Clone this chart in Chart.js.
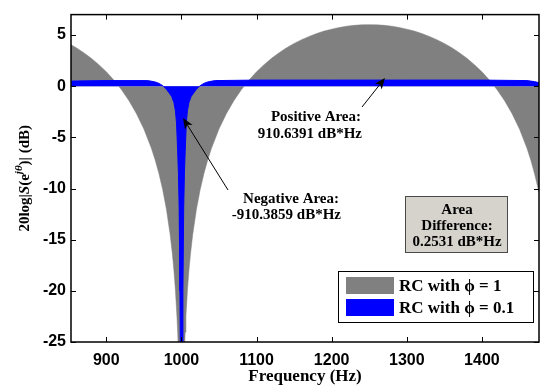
<!DOCTYPE html>
<html>
<head>
<meta charset="utf-8">
<script src="https://cdn.jsdelivr.net/npm/chart.js@4"></script>
<style>
  html, body { margin: 0; padding: 0; background: #fff; }
  #wrap { width: 540px; height: 387px; }
</style>
</head>
<body>
<div id="wrap"><canvas id="chart" width="540" height="387"></canvas></div>
<script>
// ── Data ────────────────────────────────────────────────────
const xTicks = [900, 1000, 1100, 1200, 1300, 1400];
const yTicks = [-25, -20, -15, -10, -5, 0, 5];

// RC with phi = 1 (gray)
const freqGray = [853, 860, 870, 880, 890, 900, 910, 920, 930, 940, 950, 960, 965, 970, 975, 980, 985, 988, 990, 992, 994, 995, 996, 997, 998, 999, 1000,
  1001, 1002, 1003, 1004, 1005, 1006, 1008, 1010, 1012, 1015, 1020, 1025, 1030, 1035, 1040, 1050, 1060, 1070, 1080, 1090, 1100,
  1110, 1120, 1130, 1140, 1150, 1160, 1170, 1180, 1190, 1200, 1210, 1220, 1230, 1240, 1250, 1260, 1270, 1280, 1290, 1300,
  1310, 1320, 1330, 1340, 1350, 1360, 1370, 1380, 1390, 1400, 1410, 1420, 1430, 1440, 1450, 1460, 1465, 1470, 1476, 1480];
const grayDb = [4.06, 3.76, 3.27, 2.73, 2.11, 1.41, 0.60, -0.32, -1.40, -2.66, -4.18, -6.07, -7.20, -8.52, -10.09, -12.02, -14.51, -16.44, -18.02, -19.96, -22.45, -24.04, -25.98, -28.5, -32.0, -38.0, -60,
  -38.0, -32.0, -28.5, -25.98, -24.04, -22.45, -19.96, -18.02, -16.44, -14.51, -12.02, -10.09, -8.52, -7.20, -6.07, -4.18, -2.66, -1.40, -0.32, 0.60, 1.41,
  2.11, 2.73, 3.27, 3.76, 4.18, 4.55, 4.87, 5.15, 5.39, 5.58, 5.74, 5.87, 5.95, 6.00, 6.02, 6.00, 5.95, 5.87, 5.74, 5.58,
  5.39, 5.15, 4.87, 4.55, 4.18, 3.76, 3.27, 2.73, 2.11, 1.41, 0.60, -0.32, -1.40, -2.66, -4.18, -6.07, -7.20, -8.52, -10.4, -12.02];

// RC with phi = 0.1 (blue)
const freqBlue = [853, 900, 955, 963, 968, 972, 976, 980, 983, 987, 990, 992, 993.5, 995, 996, 997, 998, 999, 1000,
  1001, 1002, 1003, 1004, 1005, 1006.5, 1008, 1010, 1013, 1017, 1020, 1024, 1028, 1032, 1037, 1045, 1100, 1200, 1300, 1400, 1460, 1470, 1476, 1480];
const blueDb = [0.5, 0.55, 0.55, 0.45, 0.35, 0.2, 0.0, -0.3, -0.6, -1.0, -1.6, -2.4, -3.6, -6.4, -8.5, -12, -20, -30, -60,
  -30, -20, -12, -8.5, -6.4, -3.6, -2.4, -1.6, -1.0, -0.6, -0.3, 0.0, 0.2, 0.35, 0.45, 0.55, 0.6, 0.6, 0.6, 0.6, 0.55, 0.45, 0.35, 0.3];

const toPoints = (xs, ys) => xs.map((x, i) => ({ x: x, y: ys[i] }));

const serif = '"Liberation Serif", "Times New Roman", serif';
const sans = '"Liberation Sans", Arial, sans-serif';

// ── Drawing helpers ─────────────────────────────────────────
function drawRich(ctx, parts, x, y, align) {
  let total = 0;
  parts.forEach(p => { ctx.font = p.font; total += ctx.measureText(p.text).width; });
  let cx = align === 'center' ? x - total / 2 : (align === 'right' ? x - total : x);
  ctx.textAlign = 'left';
  parts.forEach(p => {
    ctx.font = p.font;
    ctx.fillText(p.text, cx, y + (p.dy || 0));
    cx += ctx.measureText(p.text).width;
  });
}

function drawArrow(ctx, x0, y0, x1, y1) {
  const ang = Math.atan2(y1 - y0, x1 - x0);
  const len = 11, half = 4.5, back = 8;
  ctx.strokeStyle = '#000';
  ctx.lineWidth = 1;
  ctx.beginPath();
  ctx.moveTo(x0, y0);
  ctx.lineTo(x1 - Math.cos(ang) * back, y1 - Math.sin(ang) * back);
  ctx.stroke();
  const bx = x1 - Math.cos(ang) * len, by = y1 - Math.sin(ang) * len;
  const nx = -Math.sin(ang), ny = Math.cos(ang);
  ctx.fillStyle = '#000';
  ctx.beginPath();
  ctx.moveTo(x1, y1);
  ctx.lineTo(bx + nx * half, by + ny * half);
  ctx.lineTo(x1 - Math.cos(ang) * back, y1 - Math.sin(ang) * back);
  ctx.lineTo(bx - nx * half, by - ny * half);
  ctx.closePath();
  ctx.fill();
}

// frame, inward ticks, titles, annotations, legend
const decorations = {
  id: 'decorations',
  afterDraw(chart) {
    const ctx = chart.ctx;
    const a = chart.chartArea;
    const xs = chart.scales.x, ys = chart.scales.y;
    ctx.save();

    // frame + ticks
    ctx.strokeStyle = '#000';
    ctx.lineWidth = 1.5;
    ctx.strokeRect(a.left, a.top, a.right - a.left, a.bottom - a.top);
    ctx.lineWidth = 1;
    ctx.beginPath();
    xTicks.forEach(v => {
      const px = Math.round(xs.getPixelForValue(v)) + 0.5;
      ctx.moveTo(px, a.bottom); ctx.lineTo(px, a.bottom - 5);
      ctx.moveTo(px, a.top); ctx.lineTo(px, a.top + 5);
    });
    yTicks.forEach(v => {
      const py = Math.round(ys.getPixelForValue(v)) + 0.5;
      ctx.moveTo(a.left, py); ctx.lineTo(a.left + 5, py);
      ctx.moveTo(a.right, py); ctx.lineTo(a.right - 5, py);
    });
    ctx.stroke();

    ctx.fillStyle = '#000';
    ctx.textBaseline = 'middle';

    // x title
    ctx.font = 'bold 17px ' + serif;
    ctx.textAlign = 'center';
    ctx.fillText('Frequency (Hz)', (a.left + a.right) / 2, 377);

    // y title
    ctx.save();
    ctx.translate(25, (a.top + a.bottom) / 2);
    ctx.rotate(-Math.PI / 2);
    drawRich(ctx, [
      { text: '20log|', font: 'bold 15px ' + serif },
      { text: 'S', font: 'italic bold 15px ' + serif },
      { text: '(e', font: 'bold 15px ' + serif },
      { text: 'jθ', font: 'italic bold 11px ' + serif, dy: -6 },
      { text: ')| (dB)', font: 'bold 15px ' + serif }
    ], 0, 0, 'center');
    ctx.restore();

    // annotations
    ctx.font = 'bold 15px ' + serif;
    ctx.textAlign = 'right';
    ctx.fillText('Positive Area:', 361, 117);
    ctx.fillText('910.6391 dB*Hz', 362, 134);
    ctx.fillText('Negative Area:', 339, 199);
    ctx.fillText('-910.3859 dB*Hz', 341, 215);
    drawArrow(ctx, 362, 107, 385, 78);
    drawArrow(ctx, 228, 190, 183, 118);

    // area difference box
    ctx.fillStyle = '#d6d3cc';
    ctx.fillRect(405, 196, 102, 56);
    ctx.strokeStyle = '#4a4a4a';
    ctx.lineWidth = 1;
    ctx.strokeRect(405.5, 196.5, 102, 56);
    ctx.fillStyle = '#000';
    ctx.textAlign = 'center';
    ctx.fillText('Area', 457, 210);
    ctx.fillText('Difference:', 457, 226);
    ctx.fillText('0.2531 dB*Hz', 457, 242);

    // legend
    ctx.fillStyle = '#fff';
    ctx.fillRect(338, 271, 195, 51);
    ctx.strokeStyle = '#000';
    ctx.strokeRect(338.5, 271.5, 195, 51);
    ctx.fillStyle = '#808080';
    ctx.fillRect(346, 277, 48, 17);
    ctx.fillStyle = '#0000ff';
    ctx.fillRect(346, 299, 48, 17);
    ctx.fillStyle = '#000';
    const lf = 'bold 17px ' + serif;
    drawRich(ctx, [{ text: 'RC with ', font: lf }, { text: 'ϕ', font: lf }, { text: ' = 1', font: lf }], 399, 287, 'left');
    drawRich(ctx, [{ text: 'RC with ', font: lf }, { text: 'ϕ', font: lf }, { text: ' = 0.1', font: lf }], 399, 309, 'left');

    ctx.restore();
  }
};

new Chart(document.getElementById('chart').getContext('2d'), {
  type: 'line',
  data: {
    datasets: [
      {
        label: 'RC with ϕ = 0.1',
        data: toPoints(freqBlue, blueDb),
        borderColor: '#0000ff',
        backgroundColor: '#0000ff',
        borderWidth: 1,
        fill: 'origin',
        pointRadius: 0,
        tension: 0,
        order: 0
      },
      {
        label: 'RC with ϕ = 1',
        data: toPoints(freqGray, grayDb),
        borderColor: '#808080',
        backgroundColor: '#808080',
        borderWidth: 0.5,
        fill: 'origin',
        pointRadius: 0,
        tension: 0,
        order: 1
      }
    ]
  },
  options: {
    responsive: false,
    animation: false,
    layout: { padding: { top: 9, right: 1, left: 0, bottom: 0 } },
    plugins: { legend: { display: false }, tooltip: { enabled: false } },
    scales: {
      x: {
        type: 'linear', min: 853, max: 1476,
        grid: { display: false, drawTicks: false },
        border: { display: false },
        afterBuildTicks: s => { s.ticks = xTicks.map(v => ({ value: v })); },
        afterFit: s => { s.height = 45; },
        ticks: {
          padding: 9, maxRotation: 0, color: '#000',
          font: { family: sans, size: 16, weight: 'bold' },
          callback: v => String(v)
        }
      },
      y: {
        type: 'linear', min: -25, max: 7,
        grid: { display: false, drawTicks: false },
        border: { display: false },
        afterBuildTicks: s => { s.ticks = yTicks.map(v => ({ value: v })); },
        afterFit: s => { s.width = 71; },
        ticks: {
          padding: 5, color: '#000',
          font: { family: sans, size: 16, weight: 'bold' },
          callback: v => String(v)
        }
      }
    }
  },
  plugins: [decorations]
});
</script>
</body>
</html>
